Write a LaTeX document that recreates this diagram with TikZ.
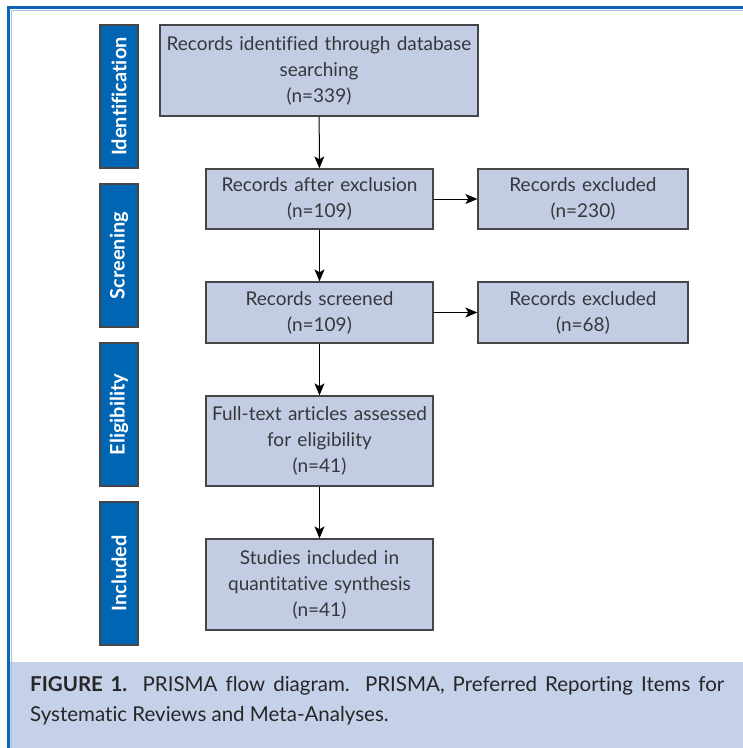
\documentclass[tikz,border=0pt]{standalone}
\usepackage{fontspec}
\setmainfont{Lato}[Ligatures=NoCommon]
\usetikzlibrary{arrows.meta, positioning}
\definecolor{frameblue}{RGB}{12,100,178}
\definecolor{framelight}{RGB}{160,196,232}
\definecolor{barblue}{RGB}{0,102,179}
\definecolor{boxfill}{RGB}{194,205,228}
\definecolor{boxline}{RGB}{70,70,72}
\definecolor{captionfill}{RGB}{197,209,232}
\definecolor{textgray}{RGB}{55,55,58}

\begin{document}
\begin{tikzpicture}[x=1pt, y=-1pt,
    stagebox/.style={rectangle, fill=boxfill, draw=boxline, line width=1.3pt,
      align=center, inner sep=2pt, text=textgray,
      font=\fontsize{19}{26}\selectfont},
    phasebar/.style={rectangle, fill=barblue, draw=boxline, line width=1.3pt,
      minimum width=143pt, minimum height=38pt, rotate=90, text=white,
      font=\fontsize{20}{24}\selectfont\bfseries},
    flow/.style={-{Stealth[length=12pt, width=10pt, inset=3pt]}, line width=1pt, black}]
  \useasboundingbox (0,0) rectangle (743,748);
  % frame and caption band
  \fill[captionfill] (10,662) rectangle (743,748);
  \draw[framelight, line width=1pt] (11,748) -- (11,10) -- (743,10);
  \draw[frameblue, line width=2.6pt] (8.5,748) -- (8.5,7.5) -- (743,7.5);

  % phase bars
  \node[phasebar] (ident) at (119, 96.5) {Identification};
  \node[phasebar] (screen) at (119, 255.5) {Screening};
  \node[phasebar] (elig) at (119, 414.5) {Eligibility};
  \node[phasebar] (incl) at (119, 573.5) {Included};

  % flow boxes
  \node[stagebox, minimum width=318pt, minimum height=91pt, text width=305pt] (found)
    at (319, 70.5) {Records identified through database\\searching\\(n=339)};
  \node[stagebox, minimum width=227pt, minimum height=60pt, text width=218pt] (afterex)
    at (319.5, 199) {Records after exclusion\\(n=109)};
  \node[stagebox, minimum width=210pt, minimum height=60pt, text width=200pt] (exclA)
    at (583, 199) {Records excluded\\(n=230)};
  \node[stagebox, minimum width=227pt, minimum height=61pt, text width=218pt] (screened)
    at (319.5, 312.5) {Records screened\\(n=109)};
  \node[stagebox, minimum width=210pt, minimum height=61pt, text width=200pt] (exclB)
    at (583, 312.5) {Records excluded\\(n=68)};
  \node[stagebox, minimum width=227pt, minimum height=90pt, text width=222pt] (fulltext)
    at (319.5, 441) {Full-text articles assessed\\for eligibility\\(n=41)};
  \node[stagebox, minimum width=227pt, minimum height=91pt, text width=222pt] (studies)
    at (319.5, 584.5) {Studies included in\\quantitative synthesis\\(n=41)};

  % connectors
  \draw[flow] (found) -- (afterex);
  \draw[flow] (afterex) -- (screened);
  \draw[flow] (screened) -- (fulltext);
  \draw[flow] (fulltext) -- (studies);
  \draw[flow] (afterex) -- (exclA);
  \draw[flow] (screened) -- (exclB);

  % caption
  \node[anchor=north west, text width=694pt, align=justify, inner sep=0pt,
        text=black!85, font=\fontsize{20.5}{30}\selectfont] (caption) at (30, 676)
    {\textbf{FIGURE 1.} PRISMA flow diagram. PRISMA, Preferred Reporting Items for \mbox{Systematic} Reviews and Meta-Analyses.};
\end{tikzpicture}
\end{document}
